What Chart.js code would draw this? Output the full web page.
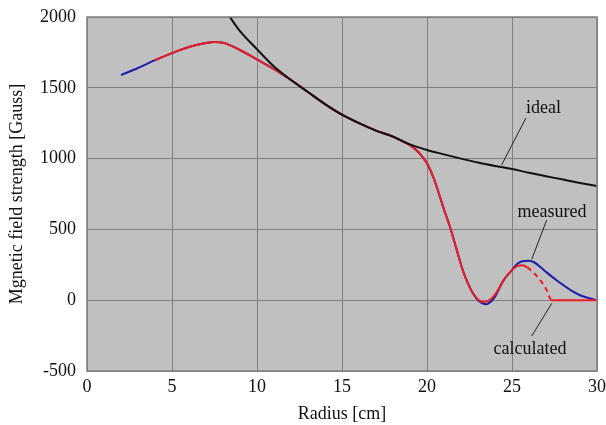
<!DOCTYPE html>
<html>
<head>
<meta charset="utf-8">
<script src="https://cdn.jsdelivr.net/npm/chart.js@4/dist/chart.umd.min.js"></script>
<style>
html,body{margin:0;padding:0;background:#fff;}
#wrap{width:606px;height:425px;position:relative;}
</style>
</head>
<body>
<div id="wrap"><canvas id="c" width="606" height="425"></canvas></div>
<script>
// ---- data ----
const xTicks = [0, 5, 10, 15, 20, 25, 30];
const yTicks = [-500, 0, 500, 1000, 1500, 2000];

const idealR = [8.4, 9, 10, 11, 12, 13, 14, 15, 16, 17, 18, 19, 20, 21, 22, 23, 24, 25, 26, 27, 28, 29, 30];
const idealB = [2000, 1900, 1772, 1650, 1555, 1470, 1385, 1310, 1250, 1198, 1155, 1100, 1061, 1030, 1000, 972, 948, 926, 900, 876, 852, 828, 806];

const measuredR = [2, 3, 4, 5, 6, 7, 7.5, 8, 9, 10, 11, 12, 13, 14, 15, 16, 17, 18, 18.6, 19, 19.5, 19.8, 20, 20.4, 20.76, 21, 21.35, 21.75, 22.1, 22.4, 22.7, 23, 23.5, 23.8, 24, 24.5, 25, 25.3, 25.6, 25.96, 26.3, 26.65, 27, 27.6, 28, 28.6, 29, 29.6, 30];
const measuredB = [1590, 1640, 1695, 1745, 1788, 1816, 1823, 1818, 1767, 1700, 1631, 1555, 1470, 1385, 1310, 1250, 1198, 1155, 1120, 1095, 1045, 1002, 967, 860, 731, 640, 519, 355, 213, 120, 49, 0, -28, -5, 25, 140, 213, 256, 275, 279, 268, 236, 200, 143, 108, 60, 35, 12, 0];

const calcR = [4, 5, 6, 7, 7.5, 8, 9, 10, 11, 12, 13, 14, 15, 16, 17, 18, 18.6, 19, 19.5, 19.8, 20, 20.4, 20.76, 21, 21.35, 21.75, 22.1, 22.4, 22.7, 23, 23.3, 23.6, 24, 24.5, 24.9, 25.3, 25.6, 25.9, 26.3, 26.65, 27.04, 27.33, 28, 29, 30];
const calcB = [1695, 1745, 1788, 1816, 1823, 1818, 1767, 1700, 1631, 1555, 1470, 1385, 1310, 1250, 1198, 1155, 1120, 1095, 1045, 1002, 967, 860, 731, 640, 519, 355, 213, 120, 49, 5, -12, -5, 40, 140, 200, 240, 246, 232, 190, 143, 72, 0, 0, 0, 0];

// ---- styling / layout config ----
const FONT = "'Liberation Serif', 'Times New Roman', serif";
const FS = 18;
const dashFrom = 25.75, dashTo = 27.33;
const labels = [
  {text: 'ideal', x: 26.85, y: 1357, line: [25.82, 1287, 24.39, 955]},
  {text: 'measured', x: 27.35, y: 623, line: [27.04, 566, 26.16, 289]},
  {text: 'calculated', x: 26.06, y: -345, line: [27.34, -22, 26.16, -253]}
];

function pts(xs, ys) { return xs.map((x, i) => ({x: x, y: ys[i]})); }

const bgPlugin = {
  id: 'plotBg',
  beforeDraw(chart) {
    const a = chart.chartArea, ctx = chart.ctx;
    ctx.save();
    ctx.fillStyle = '#c0c0c0';
    ctx.fillRect(a.left, a.top, a.right - a.left, a.bottom - a.top);
    ctx.restore();
  },
  afterDatasetsDraw(chart) {
    const a = chart.chartArea, ctx = chart.ctx;
    const xs = chart.scales.x, ys = chart.scales.y;
    ctx.save();
    ctx.strokeStyle = '#808080';
    ctx.lineWidth = 1.5;
    ctx.strokeRect(a.left, a.top, a.right - a.left, a.bottom - a.top);
    ctx.font = FS + 'px ' + FONT;
    ctx.fillStyle = '#111';
    ctx.textAlign = 'center';
    ctx.textBaseline = 'middle';
    ctx.strokeStyle = '#222';
    ctx.lineWidth = 1;
    labels.forEach(l => {
      ctx.fillText(l.text, xs.getPixelForValue(l.x), ys.getPixelForValue(l.y));
      ctx.beginPath();
      ctx.moveTo(xs.getPixelForValue(l.line[0]), ys.getPixelForValue(l.line[1]));
      ctx.lineTo(xs.getPixelForValue(l.line[2]), ys.getPixelForValue(l.line[3]));
      ctx.stroke();
    });
    ctx.restore();
  }
};

new Chart(document.getElementById('c'), {
  type: 'line',
  data: {
    datasets: [
      {label: 'ideal', data: pts(idealR, idealB), borderColor: '#111111', borderWidth: 2, pointRadius: 0, cubicInterpolationMode: 'monotone', fill: false},
      {label: 'calculated', data: pts(calcR, calcB), borderColor: '#ee1c24', borderWidth: 2, pointRadius: 0, cubicInterpolationMode: 'monotone', fill: false,
        segment: {borderDash: ctx => (ctx.p0.parsed.x >= dashFrom - 0.01 && ctx.p1.parsed.x <= dashTo + 0.01) ? [5, 4] : undefined}},
      {label: 'measured', data: pts(measuredR, measuredB), borderColor: '#1c1ca8', borderWidth: 2, pointRadius: 0, cubicInterpolationMode: 'monotone', fill: false}
    ]
  },
  options: {
    responsive: false,
    animation: false,
    devicePixelRatio: 1,
    layout: {padding: {top: 17, right: 9, left: 0, bottom: 0}},
    plugins: {legend: {display: false}, tooltip: {enabled: false}},
    scales: {
      x: {
        type: 'linear', min: 0, max: 30,
        afterBuildTicks: s => { s.ticks = xTicks.map(v => ({value: v})); },
        afterFit: s => { s.height = 54; s.paddingLeft = 0; s.paddingRight = 0; },
        grid: {color: '#808080', lineWidth: 1, drawTicks: false},
        border: {display: false},
        ticks: {color: '#111', font: {family: FONT, size: FS}, padding: 5, maxRotation: 0, callback: v => String(v)},
        title: {display: true, text: 'Radius [cm]', color: '#111', font: {family: FONT, size: FS}, padding: {top: 0, bottom: 0}}
      },
      y: {
        type: 'linear', min: -500, max: 2000,
        afterBuildTicks: s => { s.ticks = yTicks.map(v => ({value: v})); },
        afterFit: s => { s.width = 87; s.paddingTop = 0; s.paddingBottom = 0; },
        grid: {color: '#808080', lineWidth: 1, drawTicks: false},
        border: {display: false},
        ticks: {color: '#111', font: {family: FONT, size: FS}, padding: 11, callback: v => String(v)},
        title: {display: true, text: 'Mgnetic field strength [Gauss]', color: '#111', font: {family: FONT, size: FS}, padding: {top: 6, bottom: 0}}
      }
    }
  },
  plugins: [bgPlugin]
});
</script>
</body>
</html>
